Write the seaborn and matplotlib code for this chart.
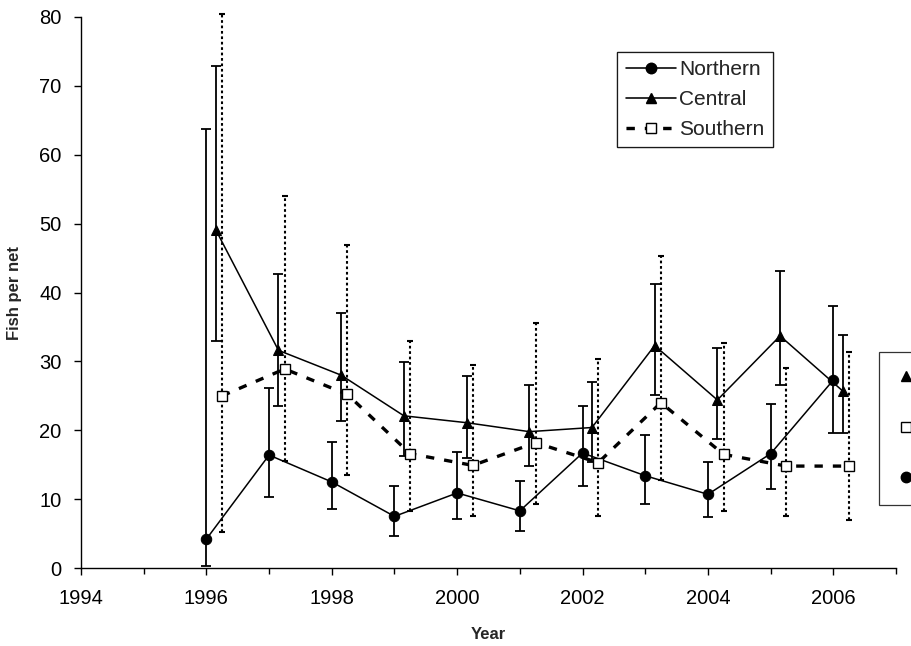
import matplotlib
matplotlib.use("Agg")
import matplotlib.pyplot as plt
import seaborn as sns
import numpy as np
import pandas as pd
from matplotlib.lines import Line2D
from matplotlib.ticker import MultipleLocator

years = [1996, 1997, 1998, 1999, 2000, 2001, 2002, 2003, 2004, 2005, 2006]

northern = [4.2, 16.4, 12.5, 7.5, 10.9, 8.3, 16.7, 13.4, 10.7, 16.6, 27.3]
northern_hi = [63.7, 26.2, 18.3, 11.9, 16.9, 12.6, 23.5, 19.3, 15.4, 23.8, 38.1]
northern_lo = [0.3, 10.3, 8.5, 4.7, 7.1, 5.4, 11.9, 9.3, 7.4, 11.5, 19.6]

central = [49.1, 31.6, 28.0, 22.1, 21.1, 19.8, 20.4, 32.3, 24.4, 33.7, 25.7]
central_hi = [72.9, 42.7, 37.0, 29.9, 27.9, 26.5, 27.0, 41.3, 31.9, 43.1, 33.8]
central_lo = [33.0, 23.5, 21.4, 16.3, 16.0, 14.8, 15.4, 25.1, 18.8, 26.5, 19.6]

southern = [25.0, 28.9, 25.2, 16.6, 14.9, 18.2, 15.3, 24.0, 16.5, 14.8, 14.8]
southern_hi = [80.5, 54.0, 46.9, 33.0, 29.5, 35.6, 30.3, 45.3, 32.6, 29.1, 31.4]
southern_lo = [5.3, 15.5, 13.5, 8.3, 7.5, 9.3, 7.5, 12.8, 8.3, 7.6, 7.0]

offset_central = 0.15
offset_southern = 0.25

sns.set_theme(style="white")
plt.rcParams['font.family'] = ['Liberation Sans', 'DejaVu Sans']

fig = plt.figure(figsize=(9.12, 6.46), dpi=100)
ax = fig.add_axes([0.0888, 0.1207, 0.8937, 0.853])

xn = np.array(years, dtype=float)
xc = xn + offset_central
xs = xn + offset_southern

df_n = pd.DataFrame({"x": xn, "y": northern})
df_c = pd.DataFrame({"x": xc, "y": central})
df_s = pd.DataFrame({"x": xs, "y": southern})

def ebar(x, y, lo, hi, ls, capsize, lw, clip=True):
    y = np.array(y); lo = np.array(lo); hi = np.array(hi)
    eb = ax.errorbar(x, y, yerr=[y - lo, hi - y], fmt='none', ecolor='black',
                     elinewidth=lw, capsize=capsize, capthick=lw, zorder=2)
    eb[2][0].set_linestyle(ls)
    if not clip:
        for a in eb[2]:
            a.set_clip_on(False)
        for a in eb[1]:
            a.set_clip_on(False)
    return eb

ebar(xn, northern, northern_lo, northern_hi, '-', 3.5, 1.3)
ebar(xc, central, central_lo, central_hi, '-', 3.5, 1.3)
ebar(xs, southern, southern_lo, southern_hi, (0, (1.3, 1.3)), 2, 1.5, clip=False)

MS_C = 7.5
MS_T = 7.5
MS_S = 6.8
DASH = (0, (2.5, 3.0))

sns.lineplot(data=df_n, x="x", y="y", ax=ax, color="black", lw=1.1, marker="o",
             markersize=MS_C, markeredgecolor="black", markerfacecolor="black", zorder=3)
sns.lineplot(data=df_c, x="x", y="y", ax=ax, color="black", lw=1.1, marker="^",
             markersize=MS_T, markeredgecolor="black", markerfacecolor="black", zorder=3)
sns.lineplot(data=df_s, x="x", y="y", ax=ax, color="black", lw=2.4, marker="s",
             markersize=MS_S, markeredgecolor="black", markerfacecolor="white",
             markeredgewidth=1.0, zorder=3)
ax.lines[-1].set_linestyle(DASH)

ax.set_xlim(1994, 2007)
ax.set_ylim(0, 80)
ax.xaxis.set_major_locator(MultipleLocator(2))
ax.xaxis.set_minor_locator(MultipleLocator(1))
ax.yaxis.set_major_locator(MultipleLocator(10))
ax.tick_params(axis='both', which='both', direction='out', color='black',
               length=5, width=1, labelsize=14.5, labelcolor='black')
ax.tick_params(axis='x', which='both', bottom=True, pad=10)
ax.tick_params(axis='y', left=True, pad=9)
ax.tick_params(axis='x', which='minor', length=4)

for s in ['top', 'right']:
    ax.spines[s].set_visible(False)
for s in ['left', 'bottom']:
    ax.spines[s].set_color('black')
    ax.spines[s].set_linewidth(1.0)

ax.set_xlabel("Year", fontsize=12, fontweight='bold', labelpad=14)
ax.set_ylabel("Fish per net", fontsize=12, fontweight='bold', labelpad=12)

h1 = Line2D([], [], color='black', lw=1.1, marker='o', markersize=MS_C)
h2 = Line2D([], [], color='black', lw=1.1, marker='^', markersize=MS_T)
h3 = Line2D([], [], color='black', lw=2.4, ls=DASH, marker='s', markersize=MS_S,
            markerfacecolor='white', markeredgewidth=1.0)
leg = ax.legend([h1, h2, h3], ["Northern", "Central", "Southern"],
                loc='upper left', bbox_to_anchor=(0.658, 0.9365), borderaxespad=0,
                frameon=True, fancybox=False, edgecolor='black', fontsize=15,
                handlelength=2.4, handletextpad=0.18, borderpad=0.4, labelspacing=0.52)
leg.get_frame().set_linewidth(0.9)
ax.add_artist(leg)

g1 = Line2D([], [], color='black', lw=0, marker='^', markersize=MS_T)
g2 = Line2D([], [], color='black', lw=0, marker='s', markersize=MS_S, markerfacecolor='white',
            markeredgewidth=1.0)
g3 = Line2D([], [], color='black', lw=0, marker='o', markersize=MS_C)
leg2 = fig.legend([g1, g2, g3], ["      ", "      ", "      "],
                  loc='upper left', bbox_to_anchor=(879 / 912, 1 - 352 / 646),
                  borderaxespad=0, frameon=True, fancybox=False, edgecolor='black',
                  fontsize=15, handlelength=1.0, handletextpad=0.3, borderpad=0.8,
                  labelspacing=1.5)
leg2.get_frame().set_linewidth(0.9)

fig.savefig("out.png", dpi=100)
